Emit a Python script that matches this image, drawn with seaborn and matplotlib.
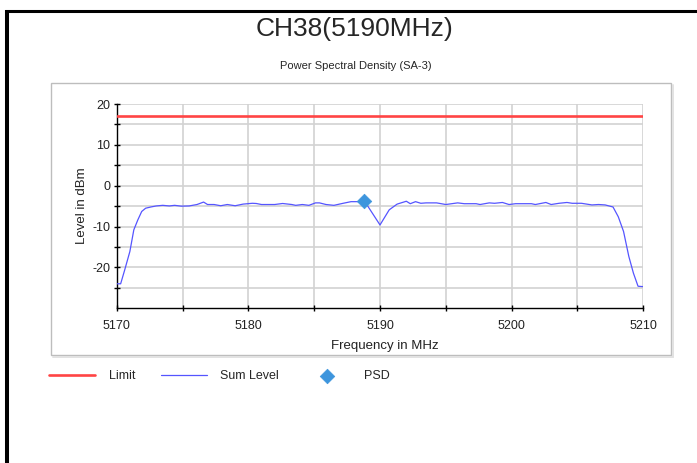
import matplotlib
matplotlib.use("Agg")
import matplotlib.pyplot as plt
from matplotlib.lines import Line2D
from matplotlib.patches import Rectangle
from matplotlib.ticker import MultipleLocator, FixedLocator
import seaborn as sns
import pandas as pd

# Measured sum level trace
freq_mhz = [5170.0, 5170.3, 5170.6, 5171.0, 5171.3, 5171.6, 5171.9, 5172.2, 5172.6,
            5173.0, 5173.5, 5174.0, 5174.4, 5174.9, 5175.5, 5176.1, 5176.6, 5176.9,
            5177.4, 5177.9, 5178.4, 5179.0, 5179.6, 5180.3, 5180.6, 5181.0, 5182.0,
            5182.6, 5183.3, 5183.6, 5184.1, 5184.6, 5185.1, 5185.4, 5185.9, 5186.5,
            5187.2, 5187.8, 5188.5, 5188.8, 5190.0, 5190.7, 5191.3, 5192.0, 5192.3,
            5192.7, 5193.1, 5193.5, 5194.3, 5195.0, 5195.9, 5196.4, 5197.3, 5197.6,
            5198.3, 5198.7, 5199.3, 5199.8, 5200.3, 5201.5, 5201.8, 5202.6, 5203.0,
            5203.6, 5204.2, 5204.6, 5205.3, 5206.1, 5206.6, 5207.1, 5207.7, 5208.1,
            5208.5, 5208.9, 5209.25, 5209.6, 5210.0]
sum_level_dbm = [-24.0, -24.0, -20.7, -16.1, -10.8, -8.4, -6.3, -5.5, -5.2,
                 -4.95, -4.8, -4.95, -4.8, -5.0, -4.95, -4.6, -4.0, -4.6,
                 -4.6, -4.9, -4.6, -4.9, -4.5, -4.3, -4.35, -4.6, -4.6,
                 -4.35, -4.6, -4.8, -4.6, -4.8, -4.2, -4.2, -4.6, -4.8,
                 -4.3, -3.9, -3.9, -3.65, -9.6, -5.9, -4.5, -3.8, -4.4,
                 -3.9, -4.3, -4.2, -4.2, -4.6, -4.2, -4.4, -4.4, -4.6,
                 -4.2, -4.3, -4.1, -4.6, -4.4, -4.4, -4.6, -4.1, -4.6,
                 -4.3, -4.1, -4.3, -4.3, -4.7, -4.6, -4.7, -5.2, -7.6,
                 -11.2, -17.3, -21.4, -24.6, -24.7]

# Limit line and PSD peak
limit_freq = [5170.0, 5210.0]
limit_dbm = [17.0, 17.0]
psd_freq = [5188.8]
psd_dbm = [-3.65]

# Axis ticks
x_major_ticks = [5170, 5180, 5190, 5200, 5210]
y_major_ticks = [-20, -10, 0, 10, 20]

title_text = "CH38(5190MHz)"
subtitle_text = "Power Spectral Density (SA-3)"
x_label = "Frequency in MHz"
y_label = "Level in dBm"

sns.set_style("white")
plt.rcParams["font.family"] = ["Liberation Sans", "DejaVu Sans"]
plt.rcParams["axes.unicode_minus"] = False

W, H = 697, 463
fig = plt.figure(figsize=(W / 100, H / 100), dpi=100)
fig.patch.set_facecolor("white")


def fx(px):
    return px / W


def fy(py):
    return 1 - py / H


# Outer black frame (top and left)
fig.add_artist(Line2D([fx(5), fx(697)], [fy(11), fy(11)], color="black",
                      lw=2.2, transform=fig.transFigure, solid_capstyle="butt"))
fig.add_artist(Line2D([fx(7), fx(7)], [fy(9.5), fy(463)], color="black",
                      lw=2.9, transform=fig.transFigure, solid_capstyle="butt"))

# Chart panel box with light shadow
fig.add_artist(Line2D([fx(672.5), fx(672.5)], [fy(85), fy(356.5)], color="#e2e2e2",
                      lw=1.4, transform=fig.transFigure))
fig.add_artist(Line2D([fx(53), fx(672.5)], [fy(356.5), fy(356.5)], color="#e2e2e2",
                      lw=1.4, transform=fig.transFigure))
fig.add_artist(Rectangle((fx(51), fy(355)), fx(671) - fx(51), fy(83) - fy(355),
                         transform=fig.transFigure, fill=False,
                         edgecolor="#bdbdbd", lw=1.0))

fig.text(fx(355), fy(29), title_text, ha="center", va="center", fontsize=19)
fig.text(fx(356), fy(66), subtitle_text, ha="center", va="center", fontsize=8)

ax = fig.add_axes([fx(116.7), fy(308.3), fx(643.3) - fx(116.7), fy(104) - fy(308.3)])
ax.set_facecolor("white")

df_sum = pd.DataFrame({"Frequency": freq_mhz, "Level": sum_level_dbm})
df_lim = pd.DataFrame({"Frequency": limit_freq, "Level": limit_dbm})
df_psd = pd.DataFrame({"Frequency": psd_freq, "Level": psd_dbm})

sns.lineplot(data=df_lim, x="Frequency", y="Level", ax=ax, color="#ff4444",
             lw=1.9, label="Limit", zorder=3)
sns.lineplot(data=df_sum, x="Frequency", y="Level", ax=ax, color="#5555ff",
             lw=0.9, label="Sum Level", sort=False, estimator=None, zorder=4)
sns.scatterplot(data=df_psd, x="Frequency", y="Level", ax=ax, color="#3d95dd",
                marker="D", s=55, edgecolor="#3d95dd", linewidth=0.5,
                label="PSD", zorder=5)

ax.set_xlim(5170, 5210)
ax.set_ylim(-30, 20)
ax.xaxis.set_major_locator(FixedLocator(x_major_ticks))
ax.xaxis.set_minor_locator(MultipleLocator(5))
ax.yaxis.set_major_locator(FixedLocator(y_major_ticks))
ax.yaxis.set_minor_locator(FixedLocator([-25, -15, -5, 5, 15]))
ax.set_yticklabels([str(v) for v in y_major_ticks])
ax.set_xticklabels([str(v) for v in x_major_ticks])

ax.grid(True, which="both", color="#d2d2d2", lw=1.2)
ax.set_axisbelow(True)
for s in ["top", "right"]:
    ax.spines[s].set_visible(False)
for s in ["left", "bottom"]:
    ax.spines[s].set_color("black")
    ax.spines[s].set_linewidth(1.0)

ax.tick_params(which="both", direction="inout", length=5, width=1.0,
               color="black", labelsize=9, labelcolor="#222222")
ax.tick_params(axis="x", which="major", pad=6)
ax.tick_params(axis="y", which="major", pad=2)
ax.tick_params(left=True, bottom=True, which="both")

ax.set_xlabel(x_label, fontsize=9.5, color="#222222")
ax.set_ylabel(y_label, fontsize=9.5, color="#222222")
ax.xaxis.set_label_coords((385 - 116.7) / (643.3 - 116.7), -(346 - 308.3) / (308.3 - 104))
ax.xaxis.label.set_va("center")
ax.yaxis.set_label_coords(-(116.7 - 81.5) / (643.3 - 116.7), 0.5)
ax.yaxis.label.set_va("center")

handles, labels = ax.get_legend_handles_labels()
ax.get_legend().remove()
fig.legend(handles, labels, loc="center left", bbox_to_anchor=(fx(49), fy(376)),
           ncol=3, frameon=False, fontsize=9, handlelength=3.7,
           handletextpad=1.1, columnspacing=2.0, borderpad=0, borderaxespad=0)

fig.savefig("out.png", dpi=100, facecolor="white")
